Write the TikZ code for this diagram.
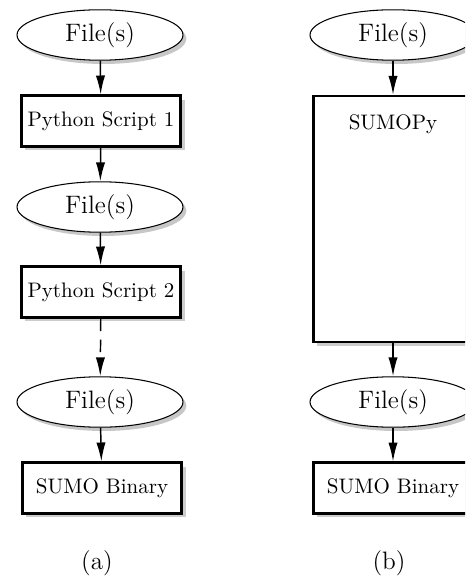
\documentclass[tikz,border=0pt]{standalone}
\usetikzlibrary{shapes.geometric,shadows,arrows.meta}

\tikzset{
  fileio/.style={ellipse,draw,line width=0.5pt,fill=white,
    minimum width=79pt,minimum height=24pt,inner sep=0pt,font=\large,
    drop shadow={shadow xshift=1.6pt,shadow yshift=-1.8pt,fill=black!22,opacity=1}},
  procbox/.style={rectangle,draw,line width=1.3pt,fill=white,
    minimum width=76pt,minimum height=24pt,inner sep=0pt,
    drop shadow={shadow xshift=2pt,shadow yshift=-2pt,fill=black!20,opacity=1}},
  flow/.style={-{Latex[length=9pt,width=4.4pt]},line width=0.7pt},
}

\begin{document}
\begin{tikzpicture}[x=0.476pt,y=-0.476pt]
  \clip (0,0) rectangle (465,579);
  % (a) separate scripts
  \node[fileio] (fa1) at (100,35) {File(s)};
  \node[procbox] (ps1) at (101,121) {Python Script 1};
  \node[fileio] (fa2) at (100,207) {File(s)};
  \node[procbox] (ps2) at (101,292) {Python Script 2};
  \node[fileio] (fa3) at (100,402) {File(s)};
  \node[procbox] (sba) at (102,488) {SUMO Binary};
  \node (capa) at (97,563) {\large (a)};
  \draw[flow] (fa1) -- (ps1);
  \draw[flow] (ps1) -- (fa2);
  \draw[flow] (fa2) -- (ps2);
  \draw[flow,dashed,dash pattern=on 6pt off 4pt] (ps2) -- (fa3);
  \draw[flow] (fa3) -- (sba);

  % (b) SUMOPy
  \node[fileio] (fb1) at (393,35) {File(s)};
  \node[procbox,minimum height=117pt,
    label={[anchor=north,yshift=-6pt]north:SUMOPy}] (spy) at (393,219) {};
  \node[fileio] (fb2) at (393,402) {File(s)};
  \node[procbox] (sbb) at (393,488) {SUMO Binary};
  \node (capb) at (389,563) {\large (b)};
  \draw[flow] (fb1) -- (spy);
  \draw[flow] (spy) -- (fb2);
  \draw[flow] (fb2) -- (sbb);
\end{tikzpicture}
\end{document}
